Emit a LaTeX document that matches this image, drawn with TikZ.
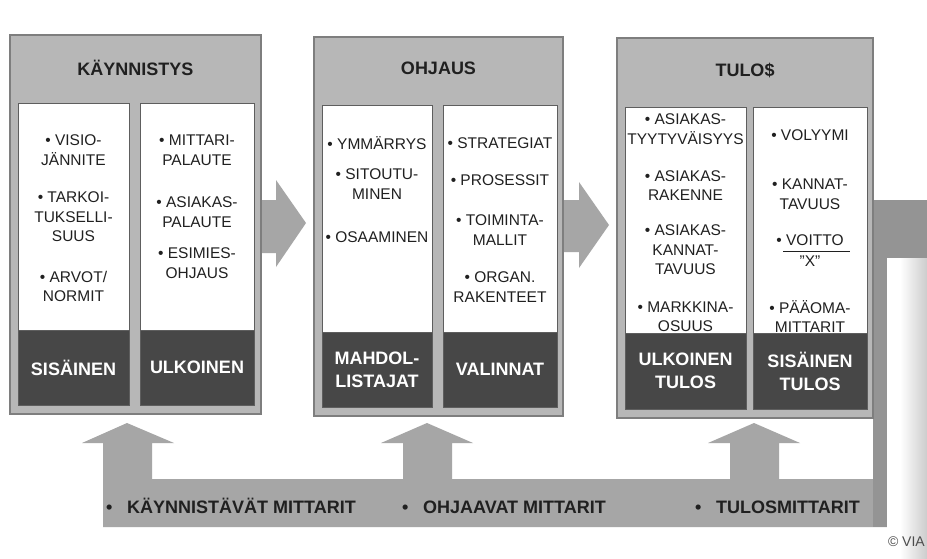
\documentclass[tikz,border=0pt]{standalone}
\usepackage{fontspec}
\setmainfont{Liberation Sans}
\usetikzlibrary{calc}
\definecolor{panelfill}{HTML}{B7B7B7}
\definecolor{paneledge}{HTML}{7E7E7E}
\definecolor{coledge}{HTML}{5E5E5E}
\definecolor{darkfill}{HTML}{474747}
\definecolor{arrowgrey}{HTML}{A6A6A6}
\definecolor{bargrey}{HTML}{949494}
\definecolor{inktext}{HTML}{202020}
\begin{document}
\begin{tikzpicture}[x=1pt,y=-1pt,
  panel/.style={draw=paneledge,fill=panelfill,line width=1.1pt,inner sep=0pt},
  column/.style={draw=coledge,fill=white,line width=0.8pt,inner sep=0pt},
  footer/.style={draw=coledge,fill=darkfill,line width=0.8pt,inner sep=0pt},
  heading/.style={font=\bfseries\fontsize{18}{20}\selectfont,text=inktext,inner sep=0pt},
  item/.style={font=\fontsize{15.5}{19.5}\selectfont,text=inktext,align=center,inner sep=0pt},
  footlabel/.style={font=\bfseries\fontsize{18}{23}\selectfont,text=white,align=center,inner sep=0pt},
  metric/.style={font=\bfseries\fontsize{18}{20}\selectfont,text=inktext,anchor=base west,inner sep=0pt},
  blockarrow/.style={fill=arrowgrey,draw=none}]
\useasboundingbox (0,0) rectangle (927,558);
\fill[white] (0,0) rectangle (927,558);

% feedback path along the bottom with three upward arrows
\fill[blockarrow]
  (103,527) -- (103,443) -- (82,443) -- (127,423) -- (174,443) -- (152,443) -- (152,479)
  -- (403,479) -- (403,443) -- (381,443) -- (427,423) -- (473,443) -- (452,443) -- (452,479)
  -- (730,479) -- (730,443) -- (708,443) -- (754,423) -- (800,443) -- (779,443) -- (779,479)
  -- (887,479) -- (887,527) -- cycle;
\fill[bargrey] (873,200) rectangle (887,527);
\fill[bargrey] (873,200) rectangle (927,258);
\shade[left color=white,right color=white!80!black] (900,258) rectangle (927,558);
\fill[white] (887,258) rectangle (900,558);

% forward arrows between the phases
\fill[blockarrow] (258,200) -- (276,200) -- (276,180) -- (306,223) -- (276,267) -- (276,253) -- (258,253) -- cycle;
\fill[blockarrow] (560,200) -- (579,200) -- (579,182) -- (609,225) -- (579,268) -- (579,252) -- (560,252) -- cycle;

% phase panels
\node[panel,minimum width=251,minimum height=379] (p1) at (135.5,224.5) {};
\node[panel,minimum width=249,minimum height=379] (p2) at (438.5,226.5) {};
\node[panel,minimum width=256,minimum height=380] (p3) at (745,228) {};

\node[heading] (h1) at (135.5,68) {KÄYNNISTYS};
\node[heading] (h2) at (438.5,68) {OHJAUS};
\node[heading] (h3) at (745,70) {TULO\$};

% columns
\node[column,minimum width=111,minimum height=302] (c11) at (73.5,254) {};
\node[column,minimum width=114,minimum height=302] (c12) at (197,254) {};
\node[column,minimum width=110,minimum height=302] (c21) at (377,256) {};
\node[column,minimum width=114,minimum height=302] (c22) at (500,256) {};
\node[column,minimum width=121,minimum height=302] (c31) at (685.5,258) {};
\node[column,minimum width=114,minimum height=302] (c32) at (810,258) {};

% column contents
\node[item] (a1) at (73.5,150) {• VISIO-\\JÄNNITE};
\node[item] (a2) at (73.5,217) {• TARKOI-\\TUKSELLI-\\SUUS};
\node[item] (a3) at (73.5,286.5) {• ARVOT/\\NORMIT};

\node[item] (b1) at (197,150) {• MITTARI-\\PALAUTE};
\node[item] (b2) at (197,212) {• ASIAKAS-\\PALAUTE};
\node[item] (b3) at (197,263) {• ESIMIES-\\OHJAUS};

\node[item] (d1) at (377,143) {• YMMÄRRYS};
\node[item] (d2) at (377,184) {• SITOUTU-\\MINEN};
\node[item] (d3) at (377,237) {• OSAAMINEN};

\node[item] (e1) at (500,143) {• STRATEGIAT};
\node[item] (e2) at (500,180) {• PROSESSIT};
\node[item] (e3) at (500,230) {• TOIMINTA-\\MALLIT};
\node[item] (e4) at (500,287) {• ORGAN.\\RAKENTEET};

\node[item] (f1) at (685.5,129) {• ASIAKAS-\\TYYTYVÄISYYS};
\node[item] (f2) at (685.5,185.5) {• ASIAKAS-\\RAKENNE};
\node[item] (f3) at (685.5,250) {• ASIAKAS-\\KANNAT-\\TAVUUS};
\node[item] (f4) at (685.5,316.5) {• MARKKINA-\\OSUUS};

\node[item] (g1) at (810,135) {• VOLYYMI};
\node[item] (g2) at (810,194) {• KANNAT-\\TAVUUS};
\node[item] (g3) at (810,240) {• VOITTO};
\node[item] (g4) at (810,261) {"X"};
\draw[inktext,line width=0.9pt] (783,251) -- (850,251);
\node[item] (g5) at (810,316.5) {• PÄÄOMA-\\MITTARIT};

% dark footers
\node[footer,minimum width=111,minimum height=75] (s11) at (73.5,367.5) {};
\node[footer,minimum width=114,minimum height=75] (s12) at (197,367.5) {};
\node[footer,minimum width=110,minimum height=75] (s21) at (377,369.5) {};
\node[footer,minimum width=114,minimum height=75] (s22) at (500,369.5) {};
\node[footer,minimum width=121,minimum height=76] (s31) at (685.5,371) {};
\node[footer,minimum width=114,minimum height=76] (s32) at (810,371) {};

\node[footlabel] at (s11) {SISÄINEN};
\node[footlabel] at (s12) {ULKOINEN};
\node[footlabel] at (s21) {MAHDOL-\\LISTAJAT};
\node[footlabel] at (s22) {VALINNAT};
\node[footlabel] at (s31) {ULKOINEN\\TULOS};
\node[footlabel] at (s32) {SISÄINEN\\TULOS};

% metric labels on the feedback path
\node[metric] (m1) at (106,513.5) {\makebox[21pt][l]{•}KÄYNNISTÄVÄT MITTARIT};
\node[metric] (m2) at (402,513.5) {\makebox[21pt][l]{•}OHJAAVAT MITTARIT};
\node[metric] (m3) at (695,513.5) {\makebox[21pt][l]{•}TULOSMITTARIT};

\node[anchor=base east,inner sep=0pt,text=black!70,font=\fontsize{14}{16}\selectfont] (cr) at (925,546) {© VIA};
\end{tikzpicture}
\end{document}
